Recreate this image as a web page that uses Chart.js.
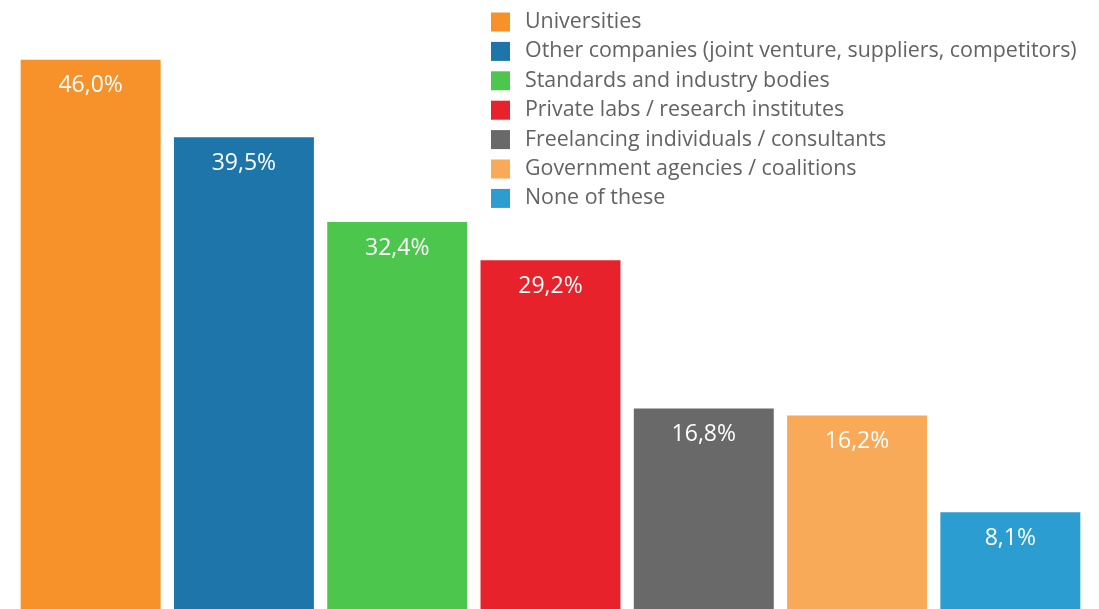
<!DOCTYPE html>
<html>
<head>
<meta charset="utf-8">
<script src="https://cdn.jsdelivr.net/npm/chart.js@4.4.1/dist/chart.umd.min.js"></script>
<style>
  html, body { margin: 0; padding: 0; background: #fff; }
  #wrap { position: relative; width: 1099px; height: 609px; }
</style>
</head>
<body>
<div id="wrap"><canvas id="chart"></canvas></div>
<script>
  // Partners for open innovation, share of respondents
  const categories = [
    'Universities',
    'Other companies (joint venture, suppliers, competitors)',
    'Standards and industry bodies',
    'Private labs / research institutes',
    'Freelancing individuals / consultants',
    'Government agencies / coalitions',
    'None of these'
  ];
  const values = [46.0, 39.5, 32.4, 29.2, 16.8, 16.2, 8.1];
  const colors = ['#F7922A', '#1D75AA', '#4DC64E', '#E8222A', '#686968', '#F8AA58', '#2B9DD0'];

  const FONT = '"Open Sans", "Noto Sans", sans-serif';
  const fmtPct = (v) => v.toFixed(1).replace('.', ',') + '%';

  // white value label near the top of each bar
  const barLabels = {
    id: 'barLabels',
    afterDatasetsDraw(chart) {
      const ctx = chart.ctx;
      const meta = chart.getDatasetMeta(0);
      ctx.save();
      ctx.fillStyle = '#ffffff';
      ctx.font = '23px ' + FONT;
      ctx.textAlign = 'center';
      ctx.textBaseline = 'middle';
      meta.data.forEach((bar, i) => {
        ctx.fillText(fmtPct(values[i]), bar.x, bar.y + 26);
      });
      ctx.restore();
    }
  };

  // legend list in the upper right
  const sideLegend = {
    id: 'sideLegend',
    afterDraw(chart) {
      const ctx = chart.ctx;
      const x0 = 491, y0 = 22, step = 29.4, box = 19;
      ctx.save();
      ctx.font = '21.4px ' + FONT;
      ctx.textBaseline = 'middle';
      ctx.textAlign = 'left';
      categories.forEach((name, i) => {
        const y = y0 + i * step;
        ctx.fillStyle = colors[i];
        ctx.fillRect(x0, y - box / 2, box, box);
        ctx.fillStyle = '#636363';
        ctx.fillText(name, 525, y);
      });
      ctx.restore();
    }
  };

  new Chart(document.getElementById('chart').getContext('2d'), {
    type: 'bar',
    data: {
      labels: categories,
      datasets: [{
        data: values,
        backgroundColor: colors,
        borderWidth: 0,
        categoryPercentage: 1,
        barPercentage: 0.913
      }]
    },
    options: {
      responsive: true,
      maintainAspectRatio: false,
      animation: false,
      layout: { padding: { left: 14, right: 12, top: 0, bottom: 0 } },
      plugins: { legend: { display: false }, tooltip: { enabled: false } },
      scales: {
        x: { display: false },
        y: { display: false, min: 0, max: 51 }
      }
    },
    plugins: [barLabels, sideLegend]
  });
</script>
</body>
</html>
